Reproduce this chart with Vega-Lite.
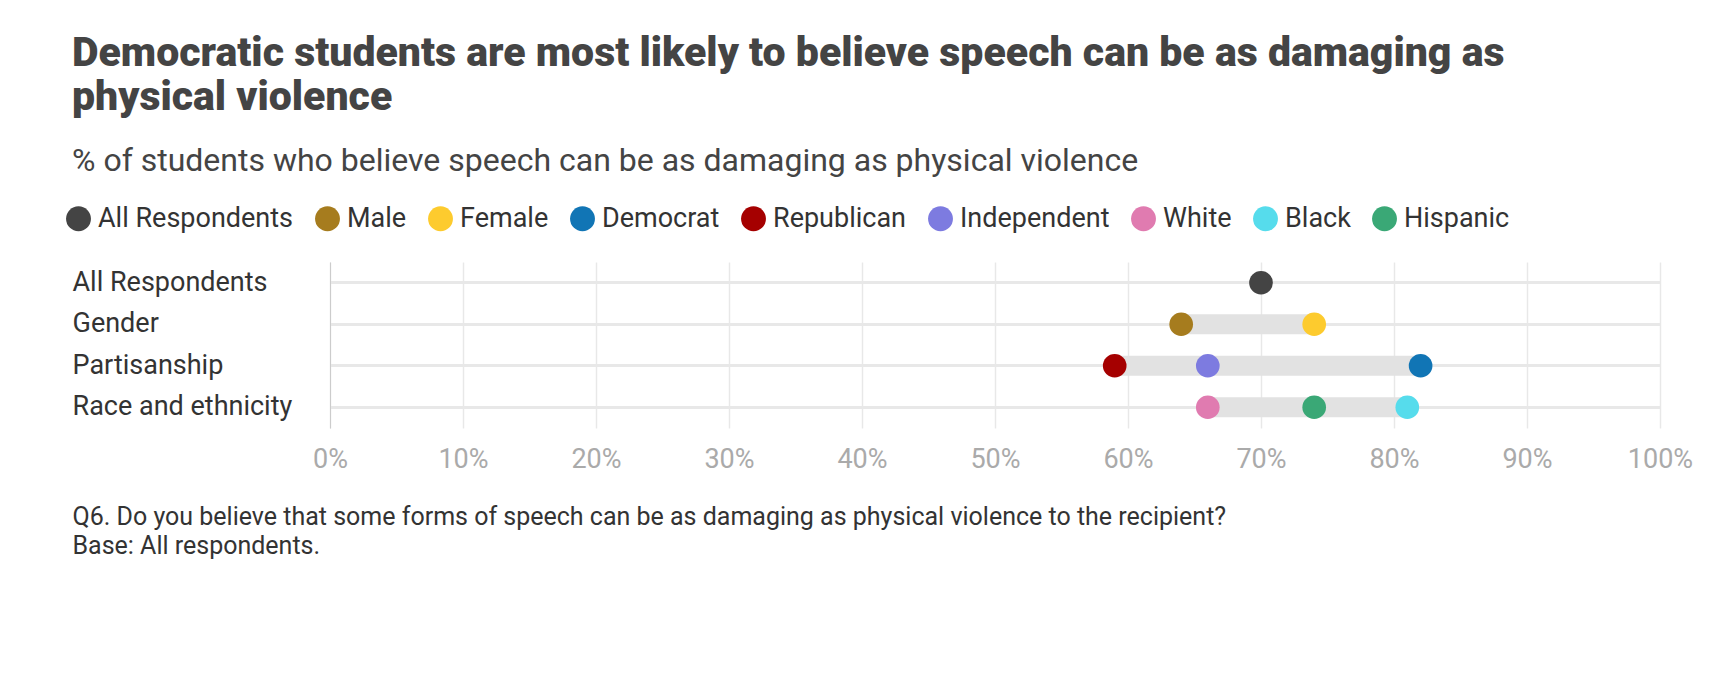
{
"$schema":"https://vega.github.io/schema/vega-lite/v6.json",
"autosize":{"type":"none"},
"width":1330,"height":166,
"padding":{"left":330,"top":262,"right":76,"bottom":246},
"background":"white",
"config":{"font":"Roboto","view":{"stroke":null}},
"title":{"text":["Democratic students are most likely to believe speech can be as damaging as","physical violence"],"subtitle":"% of students who believe speech can be as damaging as physical violence","anchor":"start","frame":"group","dx":-258,"offset":27,"fontSize":41,"fontWeight":900,"color":"#444","lineHeight":44,"subtitleFontSize":32,"subtitleColor":"#444","subtitlePadding":27,"limit":0},
"data":{"values":[
{"cat":"All Respondents","group":"All Respondents","value":70},
{"cat":"Gender","group":"Male","value":64},
{"cat":"Gender","group":"Female","value":74},
{"cat":"Partisanship","group":"Democrat","value":82},
{"cat":"Partisanship","group":"Republican","value":59},
{"cat":"Partisanship","group":"Independent","value":66},
{"cat":"Race and ethnicity","group":"White","value":66},
{"cat":"Race and ethnicity","group":"Black","value":81},
{"cat":"Race and ethnicity","group":"Hispanic","value":74}
]},
"encoding":{"y":{"field":"cat","type":"nominal","sort":["All Respondents","Gender","Partisanship","Race and ethnicity"],
"axis":{"title":null,"labelAlign":"left","labelPadding":258,"labelFontSize":27,"labelLimit":0,"labelColor":"#333","ticks":false,"domainColor":"#ccc","grid":true,"gridColor":"#e8e8e8","gridWidth":3,"bandPosition":0.5}}},
"layer":[
{"mark":{"type":"bar","height":20,"color":"#e2e2e2"},
"encoding":{"x":{"aggregate":"min","field":"value","type":"quantitative","scale":{"domain":[0,100]},
"axis":{"values":[0,10,20,30,40,50,60,70,80,90,100],"labelExpr":"datum.value + '%'","labelFlush":false,"labelFontSize":27,"labelColor":"#aaa","labelPadding":18,"domain":false,"ticks":false,"grid":true,"gridColor":"#e8e8e8","gridWidth":1.5,
"title":["Q6. Do you believe that some forms of speech can be as damaging as physical violence to the recipient?","Base: All respondents."],"titleAnchor":"start","titleAlign":"left","titleX":-258,"titleY":76,"titleFontSize":25,"titleFontWeight":"normal","titleColor":"#333","titleLineHeight":29,"titleBaseline":"top","titleLimit":0}},
"x2":{"aggregate":"max","field":"value"}}},
{"mark":{"type":"circle","size":560,"opacity":1},
"encoding":{"x":{"field":"value","type":"quantitative"},
"color":{"field":"group","type":"nominal",
"scale":{"domain":["All Respondents","Male","Female","Democrat","Republican","Independent","White","Black","Hispanic"],
"range":["#444444","#a67c1e","#fdcb2e","#1175b5","#a50000","#7d7be0","#e07bb0","#56dcec","#3aa876"]},
"legend":{"title":null,"orient":"none","direction":"horizontal","legendX":-265,"legendY":-57,"symbolType":"circle","symbolSize":620,"symbolOpacity":1,"labelFontSize":27,"labelLimit":0,"labelColor":"#333","columnPadding":20,"labelOffset":6}}}}
]}
